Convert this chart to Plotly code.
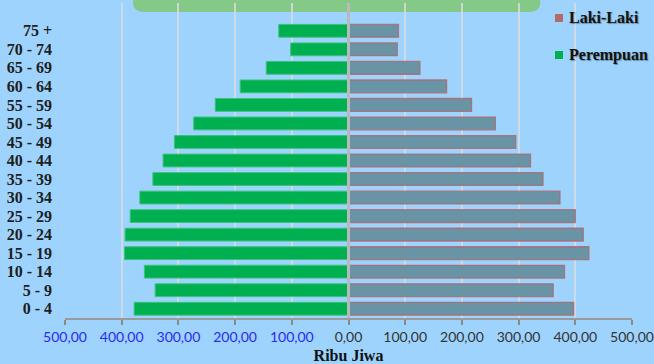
import plotly.graph_objects as go

# Kelompok umur (ribu jiwa)
age_groups = ["0 - 4", "5 - 9", "10 - 14", "15 - 19", "20 - 24", "25 - 29",
              "30 - 34", "35 - 39", "40 - 44", "45 - 49", "50 - 54", "55 - 59",
              "60 - 64", "65 - 69", "70 - 74", "75 +"]
laki_laki = [397, 361, 381, 424, 414, 400, 373, 343, 321, 295, 259, 217,
             173, 126, 86, 88]
perempuan = [378, 341, 360, 395, 394, 385, 368, 345, 327, 307, 273, 235,
             191, 145, 102, 123]
tick_values = [-500, -400, -300, -200, -100, 0, 100, 200, 300, 400, 500]
legend_names = ["Laki-Laki", "Perempuan"]

ypos = list(range(len(age_groups)))

MALE = "#6894A6"
MALE_KEY = "#B46A6A"
FEMALE = "#00B050"

def fmt(v):
    return f"{abs(v)},00"

tick_text = []
for v in tick_values:
    color = "#2A2AF0" if v < 0 else "#333333"
    tick_text.append(f'<span style="color:{color}">{abs(v)},00</span>')

fig = go.Figure()
fig.add_trace(go.Bar(
    y=ypos, x=laki_laki, orientation="h", name="Laki-Laki",
    marker=dict(color=MALE, line=dict(color="rgba(176,104,112,0.85)", width=1.3)),
    hovertext=[fmt(v) for v in laki_laki], hoverinfo="text+name",
))
fig.add_trace(go.Bar(
    y=ypos, x=[-v for v in perempuan], orientation="h", name="Perempuan",
    marker=dict(color=FEMALE, line=dict(color="#3BC27A", width=1)),
    hovertext=[fmt(v) for v in perempuan], hoverinfo="text+name",
))

# Compact legend: small square keys with bold labels, top right
key_x0, key_x1, text_x = 0.8642, 0.8783, 0.8854
for (name, col, yc) in zip(legend_names, [MALE_KEY, FEMALE], [0.9524, 0.8349]):
    fig.add_shape(type="rect", xref="paper", yref="paper",
                  x0=key_x0, x1=key_x1, y0=yc - 0.0127, y1=yc + 0.0127,
                  fillcolor=col, line=dict(width=0), layer="above")
    fig.add_annotation(x=text_x, y=yc, xref="paper", yref="paper",
                       text=name, showarrow=False, xanchor="left", yanchor="middle",
                       font=dict(family="Liberation Serif", size=16, color="#111111",
                                 weight="bold", shadow="1px 1px 1px rgba(0,0,0,0.35)"))

# Rounded title band peeking in at the top
x0, x1, y0, y1, rx, ry = 0.12, 0.838, 0.9714, 1.02, 0.02, 0.03
path = (f"M {x0},{y1} L {x0},{y0 + ry} Q {x0},{y0} {x0 + rx},{y0} "
        f"L {x1 - rx},{y0} Q {x1},{y0} {x1},{y0 + ry} L {x1},{y1} Z")
fig.add_shape(type="path", path=path, xref="paper", yref="paper",
              fillcolor="#85C988", line=dict(width=0), layer="below")

# Zero divider between the two sides
fig.add_shape(type="line", x0=0, x1=0, y0=0, y1=1, xref="x", yref="paper",
              line=dict(color="#B9B9B9", width=3), layer="above")

fig.update_layout(
    width=654, height=364,
    margin=dict(l=65, r=22, t=3, b=46, autoexpand=False),
    paper_bgcolor="#9DD3FD",
    plot_bgcolor="rgba(0,0,0,0)",
    barmode="relative",
    bargap=0.31,
    showlegend=False,
    xaxis=dict(
        range=[-500, 500], tickvals=tick_values, ticktext=tick_text,
        automargin=False,
        showgrid=True, gridcolor="rgba(215,220,225,0.85)", gridwidth=1.5,
        zeroline=False,
        showline=True, linecolor="#9A9A9A", linewidth=2,
        ticks="outside", ticklen=5, tickcolor="#8A8A8A", tickwidth=2,
        tickfont=dict(family="Lato", size=14),
        title=dict(text="Ribu Jiwa", standoff=6,
                   font=dict(family="Liberation Serif", size=16, color="#111111",
                             weight="bold")),
    ),
    yaxis=dict(
        range=[-0.5, 16.5], tickvals=ypos, ticktext=age_groups,
        automargin=False,
        showgrid=False, zeroline=False, showline=False,
        ticks="", ticklabelstandoff=12,
        tickfont=dict(family="Liberation Serif", size=16, color="#1E1E1E",
                      weight="bold"),
    ),
)

fig.write_html("out.html")
